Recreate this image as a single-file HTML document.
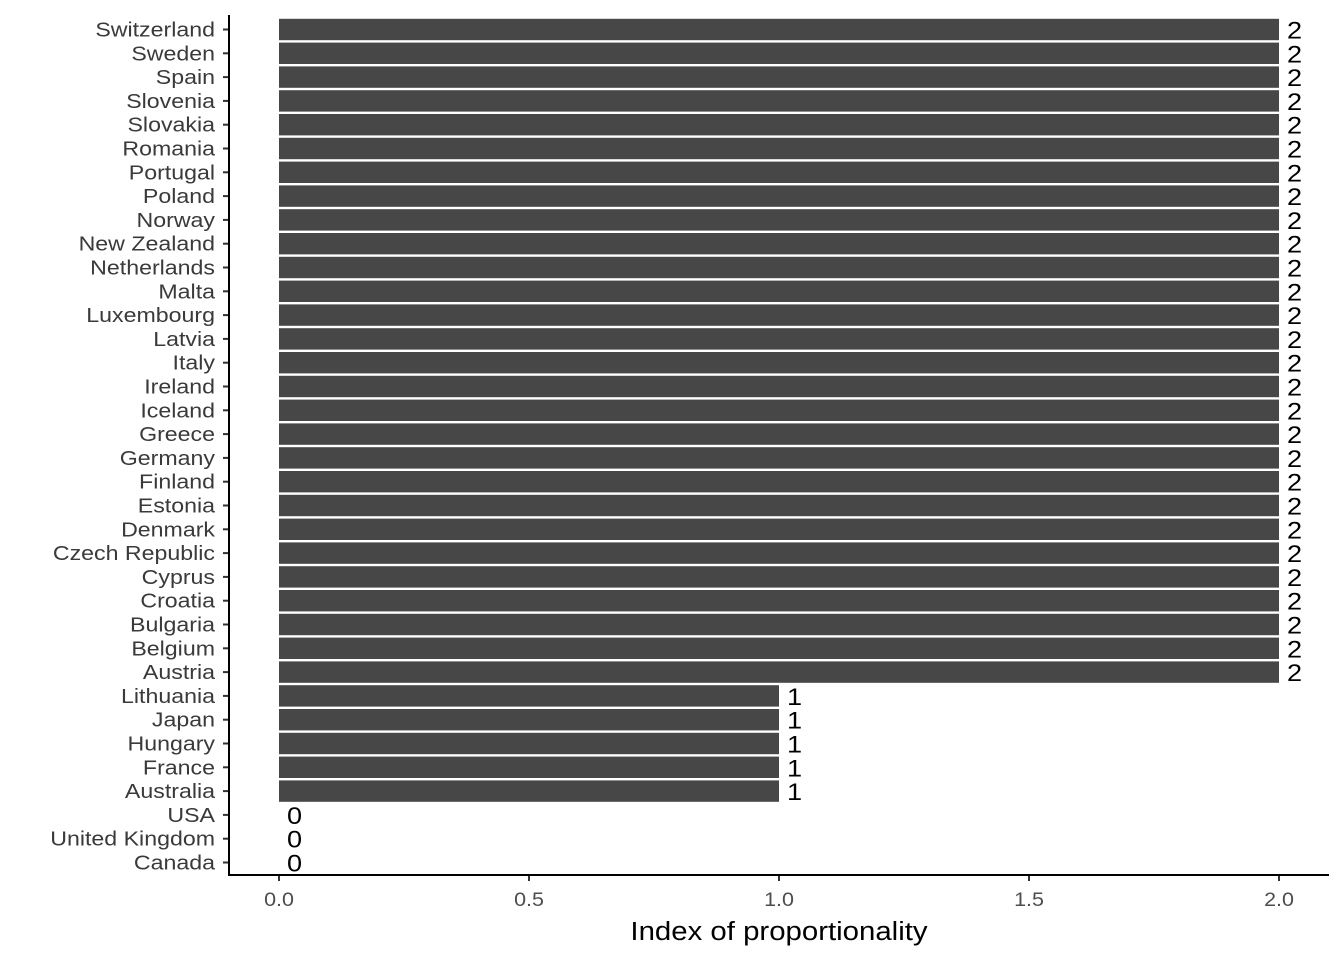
<!DOCTYPE html>
<html><head><meta charset="utf-8"><style>
body{margin:0;background:#fff;}
text{font-family:"Liberation Sans",Arial,sans-serif;}
</style></head><body>
<svg id="chart" width="1344" height="960" xmlns="http://www.w3.org/2000/svg"></svg>
<script>
const categories=["Switzerland","Sweden","Spain","Slovenia","Slovakia","Romania","Portugal","Poland","Norway","New Zealand","Netherlands","Malta","Luxembourg","Latvia","Italy","Ireland","Iceland","Greece","Germany","Finland","Estonia","Denmark","Czech Republic","Cyprus","Croatia","Bulgaria","Belgium","Austria","Lithuania","Japan","Hungary","France","Australia","USA","United Kingdom","Canada"];
const values=[2,2,2,2,2,2,2,2,2,2,2,2,2,2,2,2,2,2,2,2,2,2,2,2,2,2,2,2,1,1,1,1,1,0,0,0];
const xTicks=[0,0.5,1,1.5,2];
const xTickLabels=["0.0","0.5","1.0","1.5","2.0"];
const NS="http://www.w3.org/2000/svg";
const svg=document.getElementById('chart');
const x=v=>279+v*500;
const y=i=>29.5+i*(833/35);
const bh=21.4;
const SX=1.13;
function mk(t,a,p){const e=document.createElementNS(NS,t);for(const k in a)e.setAttribute(k,a[k]);(p||svg).appendChild(e);return e;}
function txt(px,py,a){return mk('text',Object.assign({x:0,y:0,transform:`translate(${px},${py}) scale(${SX},1)`},a));}
const bars=mk('g',{});


categories.forEach((c,i)=>{
  const r=mk('rect',{x:x(0),y:y(i)-bh/2,width:x(values[i])-x(0),height:bh,fill:'#474747'},bars);
  
  
  const v=txt(x(values[i])+8,y(i)+9,{'font-size':24,fill:'#000'});
  v.textContent=values[i];
  
  
  const l=txt(215,y(i)+7,{'font-size':20.5,fill:'#3a3a3a','text-anchor':'end'});
  l.textContent=c;
  
  
  const t=mk('line',{x1:223,x2:229,y1:y(i),y2:y(i),stroke:'#333','stroke-width':2});
  
  
});
xTicks.forEach((v,i)=>{
  const t=mk('line',{x1:x(v),x2:x(v),y1:875,y2:881,stroke:'#333','stroke-width':2});
  
  
  const l=txt(x(v),906,{'font-size':19,fill:'#4d4d4d','text-anchor':'middle'});
  l.textContent=xTickLabels[i];
  
  
});
const ya=mk('line',{x1:229,x2:229,y1:15,y2:876,stroke:'#000','stroke-width':2});


const xa=mk('line',{x1:228,x2:1329,y1:875,y2:875,stroke:'#000','stroke-width':2});


const tt=txt(779,940,{'font-size':26,fill:'#000','text-anchor':'middle'});
tt.textContent='Index of proportionality';


</script>
</body></html>
